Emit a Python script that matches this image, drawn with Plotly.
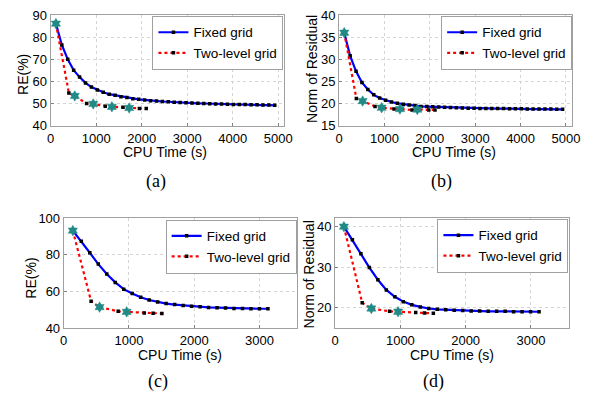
import plotly.graph_objects as go

# ---------------- data ----------------
# (a) RE(%) vs CPU time, case 1
tA_fixed = [115, 245, 375, 505, 635, 765, 895, 1025, 1155, 1285, 1415, 1545, 1675, 1805,
            1935, 2065, 2195, 2325, 2455, 2585, 2715, 2845, 2975, 3105, 3235, 3365, 3495,
            3625, 3755, 3885, 4015, 4145, 4275, 4405, 4535, 4665, 4795, 4925]
reA_fixed = [86.1, 76.5, 70.0, 65.1, 62.0, 59.4, 57.5, 56.2, 55.2, 54.3, 53.8, 53.2, 52.8, 52.3,
             52.0, 51.7, 51.4, 51.2, 51.0, 50.9, 50.7, 50.6, 50.4, 50.3, 50.2, 50.1, 50.0,
             49.9, 49.85, 49.8, 49.7, 49.65, 49.6, 49.5, 49.5, 49.4, 49.4, 49.3]
tA_two = [115, 400, 530, 790, 935, 1200, 1345, 1590, 1725, 1950, 2100]
reA_two = [86.1, 54.8, 53.5, 50.1, 49.9, 48.9, 48.6, 48.4, 48.1, 47.9, 47.8]
starA = [0, 2, 4, 6, 8]

# (b) Norm of residual vs CPU time, case 1
tB_fixed = tA_fixed
nrB_fixed = [36.0, 30.8, 27.3, 24.8, 23.2, 22.0, 21.3, 20.8, 20.4, 20.1,
             19.9, 19.7, 19.6, 19.4, 19.35, 19.3, 19.25, 19.2, 19.15, 19.1,
             19.05, 19.0, 19.0, 18.95, 18.95, 18.9, 18.9, 18.9, 18.85, 18.85,
             18.85, 18.8, 18.8, 18.8, 18.8, 18.8, 18.75, 18.75]
tB_two = [115, 382, 520, 794, 938, 1212, 1342, 1609, 1725, 1977, 2114]
nrB_two = [36.0, 21.2, 20.6, 19.4, 19.1, 18.8, 18.8, 18.6, 18.7, 18.6, 18.6]
starB = [0, 2, 4, 6, 8]

# (c) RE(%) vs CPU time, case 2
tC_fixed = [140, 270, 400, 530, 660, 790, 920, 1050, 1180, 1310, 1440, 1570, 1700, 1830,
            1960, 2090, 2220, 2350, 2480, 2610, 2740, 2870, 3000, 3130]
reC_fixed = [93.2, 87.4, 81.1, 74.9, 69.5, 64.9, 61.2, 58.8, 56.8, 55.3, 54.2, 53.3, 52.8, 52.3,
             51.9, 51.6, 51.2, 51.1, 50.9, 50.7, 50.7, 50.5, 50.5, 50.5]
tC_two = [140, 420, 550, 835, 965, 1235, 1370, 1505]
reC_two = [93.2, 54.6, 51.4, 49.1, 48.8, 48.2, 48.1, 47.9]
starC = [0, 2, 4]

# (d) Norm of residual vs CPU time, case 2
tD_fixed = [135, 265, 395, 525, 655, 785, 915, 1045, 1175, 1305, 1435, 1565, 1695, 1825,
            1955, 2085, 2215, 2345, 2475, 2605, 2735, 2865, 2995, 3125]
nrD_fixed = [40.0, 36.8, 33.3, 29.9, 26.9, 24.4, 22.7, 21.5, 20.7, 20.2, 19.8, 19.6, 19.5, 19.4,
             19.3, 19.2, 19.2, 19.1, 19.1, 19.1, 19.0, 19.0, 19.0, 19.0]
tD_two = [135, 415, 555, 835, 965, 1235, 1370, 1505]
nrD_two = [40.0, 21.2, 19.8, 19.1, 19.0, 18.8, 18.7, 18.6]
starD = [0, 2, 4]

series_names = ["Fixed grid", "Two-level grid"]
captions = ["(a)", "(b)", "(c)", "(d)"]
y_titles = ["RE(%)", "Norm of Residual", "RE(%)", "Norm of Residual"]
x_title = "CPU Time (s)"

# ---------------- figure ----------------
W, H = 611, 405
SANS = "Liberation Sans, Arial, sans-serif"
SERIF = "Liberation Serif, Times New Roman, serif"
BLUE = "#0000ff"
RED = "#ff0000"
TEAL = "#1f8a86"

def px(x):
    return x / W

def py(y):
    return 1 - y / H

panels = [
    dict(t1=tA_fixed, y1=reA_fixed, t2=tA_two, y2=reA_two, stars=starA,
         xdom=(47.7, 285.7), ydom=(8.3, 123.5), xr=(0, 5120), yr=(40, 90), dt=10,
         leg=(285.5, 9.3), ytit=(20, 70), xtit=(165, 151), cap=(155, 181)),
    dict(t1=tB_fixed, y1=nrB_fixed, t2=tB_two, y2=nrB_two, stars=starB,
         xdom=(342.3, 580.7), ydom=(8.3, 123.5), xr=(0, 5140), yr=(15, 40), dt=5,
         leg=(580.5, 9.3), ytit=(314, 64), xtit=(460, 151), cap=(447.5, 181)),
    dict(t1=tC_fixed, y1=reC_fixed, t2=tC_two, y2=reC_two, stars=starC,
         xdom=(61, 299), ydom=(219.3, 333.3), xr=(0, 3570), yr=(40, 100), dt=20,
         leg=(299, 220.7), ytit=(28, 281.7), xtit=(180, 361), cap=(157.5, 389)),
    dict(t1=tD_fixed, y1=nrD_fixed, t2=tD_two, y2=nrD_two, stars=starD,
         xdom=(338.3, 577.7), ydom=(219.3, 333.3), xr=(0, 3590), yr=(15, 42.1), dt=10,
         leg=(576.7, 220), ytit=(312, 277.3), xtit=(457.5, 361), cap=(439, 389)),
]

fig = go.Figure()
annotations = []
layout_extra = {}

for i, p in enumerate(panels):
    n = i + 1
    xa = "x" if n == 1 else f"x{n}"
    ya = "y" if n == 1 else f"y{n}"
    lg = "legend" if n == 1 else f"legend{n}"

    fig.add_trace(go.Scatter(
        x=p["t1"], y=p["y1"], xaxis=xa, yaxis=ya, legend=lg, name=series_names[0],
        mode="lines+markers", line=dict(color=BLUE, width=2.2),
        marker=dict(color="black", size=3.5, symbol="square"), showlegend=True))
    fig.add_trace(go.Scatter(
        x=p["t2"], y=p["y2"], xaxis=xa, yaxis=ya, legend=lg, name=series_names[1],
        mode="lines+markers", line=dict(color=RED, width=2.2, dash="dot"),
        marker=dict(color="black", size=3.5, symbol="square"), showlegend=True))
    fig.add_trace(go.Scatter(
        x=[p["t2"][k] for k in p["stars"]], y=[p["y2"][k] for k in p["stars"]],
        xaxis=xa, yaxis=ya, mode="markers", showlegend=False,
        marker=dict(color=TEAL, size=8, symbol="hexagram",
                    line=dict(color=TEAL, width=0.5))))

    axis_common = dict(showline=True, mirror=True, linecolor="#a0a0a0", linewidth=1,
                       showgrid=True, gridcolor="#d4d4d4", griddash="dot", gridwidth=1,
                       zeroline=False, ticks="inside", ticklen=3, tickcolor="#808080",
                       tickfont=dict(family=SANS, size=13, color="black"))
    layout_extra["xaxis" if n == 1 else f"xaxis{n}"] = dict(
        axis_common, domain=[px(p["xdom"][0]), px(p["xdom"][1])],
        range=list(p["xr"]), tick0=0, dtick=1000, anchor=ya)
    layout_extra["yaxis" if n == 1 else f"yaxis{n}"] = dict(
        axis_common, domain=[py(p["ydom"][1]), py(p["ydom"][0])],
        range=list(p["yr"]), tick0=0, dtick=p["dt"], anchor=xa)
    layout_extra[lg] = dict(
        x=px(p["leg"][0]), y=py(p["leg"][1]), xanchor="right", yanchor="top",
        bgcolor="white", bordercolor="#a0a0a0", borderwidth=1,
        font=dict(family=SANS, size=13.5, color="black"),
        itemwidth=30, tracegroupgap=0)

    annotations.append(dict(text=y_titles[i], x=px(p["ytit"][0]), y=py(p["ytit"][1]),
                            xref="paper", yref="paper", showarrow=False, textangle=-90,
                            font=dict(family=SANS, size=14, color="black"),
                            xanchor="center", yanchor="middle"))
    annotations.append(dict(text=x_title, x=px(p["xtit"][0]), y=py(p["xtit"][1]),
                            xref="paper", yref="paper", showarrow=False,
                            font=dict(family=SANS, size=14, color="black"),
                            xanchor="center", yanchor="middle"))
    annotations.append(dict(text=captions[i], x=px(p["cap"][0]), y=py(p["cap"][1]),
                            xref="paper", yref="paper", showarrow=False,
                            font=dict(family=SERIF, size=18, color="black"),
                            xanchor="center", yanchor="middle"))

fig.update_layout(
    width=W, height=H, margin=dict(l=0, r=0, t=0, b=0),
    paper_bgcolor="white", plot_bgcolor="white",
    annotations=annotations, **layout_extra)

# remove the default page margin so the 611x405 figure fills the window exactly
fig.write_html("out.html",
               config={"displayModeBar": False},
               post_script="document.body.style.margin='0';"
                           "document.body.style.overflow='hidden';")
